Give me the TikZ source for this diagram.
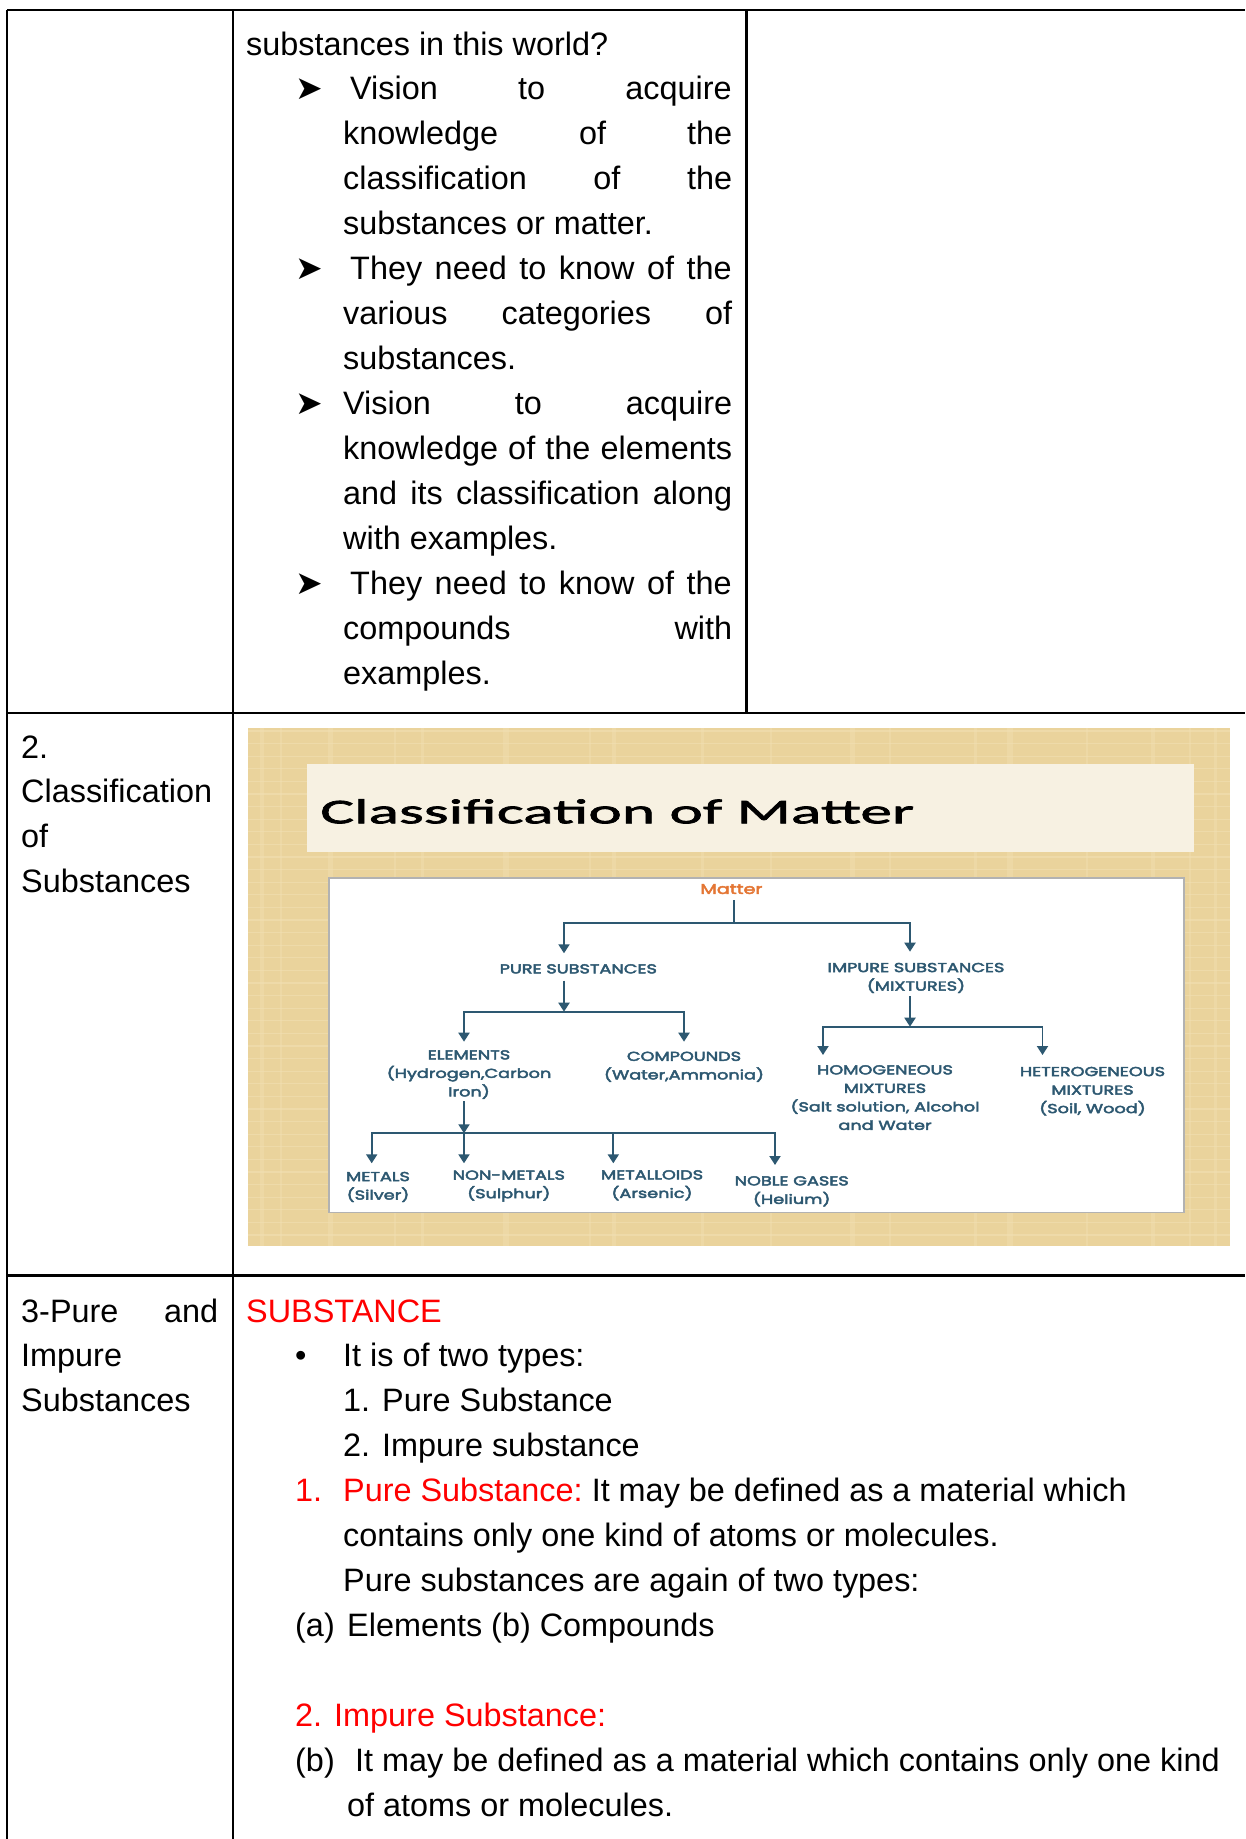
\documentclass[tikz,border=0pt]{standalone}
\usepackage{fontspec}
\setmainfont{Liberation Sans}
\newfontfamily\symfont{DejaVu Sans}
\newfontfamily\titlefont[FakeStretch=1.83,FakeBold=2]{Carlito}
\newfontfamily\treefont[FakeStretch=1.36,FakeBold=3.5]{Poppins}
\usetikzlibrary{arrows.meta,calc}

\definecolor{docred}{RGB}{255,0,0}
\definecolor{treeblue}{RGB}{45,88,113}
\definecolor{matterorange}{RGB}{228,118,52}
\definecolor{papyrus}{RGB}{234,211,156}
\definecolor{papyruslight}{RGB}{243,226,182}
\definecolor{band}{RGB}{247,241,226}

\newcommand{\docfont}{\fontsize{32.4}{44.93}\selectfont}
\newcommand{\jline}[2]{\makebox[#1pt][s]{#2}}

\begin{document}
\begin{tikzpicture}[x=1pt,y=-1pt,
    rule/.style={line width=2.4pt},
    txt/.style={anchor=base west,inner sep=0pt,font=\docfont},
    redtxt/.style={txt,text=docred},
    bulletmark/.style={txt,font=\symfont\fontsize{33}{33}\selectfont},
    tnode/.style={anchor=north,inner sep=0pt,align=center,text=treeblue,
      font=\treefont\fontsize{13}{18.5}\selectfont},
    tline/.style={treeblue,line width=1.9pt},
    tarrow/.style={tline,-{Triangle[width=11pt,length=9pt]}}]

  \useasboundingbox (0,0) rectangle (1245,1839);

  % table rules
  \draw[rule] (7,10) -- (1245,10);
  \draw[rule] (7,10) -- (7,1839);
  \draw[rule] (233,10) -- (233,1839);
  \draw[rule] (746.5,10) -- (746.5,712.7);
  \draw[rule] (7,712.7) -- (1245,712.7);
  \draw[rule] (7,1275.5) -- (1245,1275.5);

  % row 1
  \node[txt] (l0) at (246,55) {substances in this world?};
  \node[bulletmark] (b1) at (295,99.93) {➤};
  \node[txt] (l1) at (350,99.93) {\jline{381.5}{Vision to acquire}};
  \node[txt] (l2) at (343,144.86) {\jline{389}{knowledge of the}};
  \node[txt] (l3) at (343,189.79) {\jline{389}{classification of the}};
  \node[txt] (l4) at (343,234.72) {substances or matter.};
  \node[bulletmark] (b2) at (295,279.65) {➤};
  \node[txt] (l5) at (350,279.65) {\jline{381.5}{They need to know of the}};
  \node[txt] (l6) at (343,324.58) {\jline{389}{various categories of}};
  \node[txt] (l7) at (343,369.51) {substances.};
  \node[bulletmark] (b3) at (295,414.44) {➤};
  \node[txt] (l8) at (343,414.44) {\jline{389}{Vision to acquire}};
  \node[txt] (l9) at (343,459.37) {\jline{389}{knowledge of the elements}};
  \node[txt] (l10) at (343,504.3) {\jline{389}{and its classification along}};
  \node[txt] (l11) at (343,549.23) {with examples.};
  \node[bulletmark] (b4) at (295,594.16) {➤};
  \node[txt] (l12) at (350,594.16) {\jline{381.5}{They need to know of the}};
  \node[txt] (l13) at (343,639.09) {\jline{389}{compounds with}};
  \node[txt] (l14) at (343,684.02) {examples.};

  % row 2
  \node[txt] (n2) at (21,758) {2.};
  \node[txt] (c1) at (21,802.9) {Classification};
  \node[txt] (c2) at (21,847.8) {of};
  \node[txt] (c3) at (21,892.7) {Substances};

  % the picture in row 2
  \fill[papyrus] (247.7,728.3) rectangle (1230,1246);
  \foreach \k in {0,...,40}
    \draw[papyruslight,line width=1.2pt,opacity=.5] (248,{731+12.6*\k}) -- (1230,{731+12.6*\k});
  \foreach \x/\w in {262/4,281/2,330/5,395/2,422/3,506/6,590/2,614/4,702/3,771/2,852/5,890/2,975/3,1010/6,1087/2,1153/4,1190/2,1215/3}
    \draw[papyruslight,line width=\w pt,opacity=.35] (\x,728.3) -- (\x,1246);
  \fill[band] (307,764) rectangle (1194,852);
  \filldraw[fill=white,draw=gray!60,line width=1.2pt] (329,878) rectangle (1184,1212.7);
  \node[anchor=base west,inner sep=0pt,font=\titlefont\fontsize{34.7}{40}\selectfont]
    (title) at (320,823.3) {Classification of Matter};

  \node[tnode,text=matterorange,font=\treefont\fontsize{14}{18.5}\selectfont] (matter) at (731.5,884) {Matter};
  \node[tnode] (pure) at (578.3,964) {PURE SUBSTANCES};
  \node[tnode] (impure) at (916,962.7) {IMPURE SUBSTANCES\\(MIXTURES)};
  \node[tnode] (elem) at (469,1050) {ELEMENTS\\(Hydrogen,Carbon\\Iron)};
  \node[tnode] (comp) at (684,1051.5) {COMPOUNDS\\(Water,Ammonia)};
  \node[tnode] (homo) at (885,1065) {HOMOGENEOUS\\MIXTURES\\(Salt solution, Alcohol\\and Water};
  \node[tnode] (hetero) at (1092.5,1066.7) {HETEROGENEOUS\\MIXTURES\\(Soil, Wood)};
  \node[tnode] (metals) at (378,1171.7) {METALS\\(Silver)};
  \node[tnode] (nonmet) at (508.8,1170.3) {NON-METALS\\(Sulphur)};
  \node[tnode] (metalloid) at (652,1170) {METALLOIDS\\(Arsenic)};
  \node[tnode] (noble) at (791.7,1176) {NOBLE GASES\\(Helium)};

  \coordinate (j0) at (734.3,923.3);
  \coordinate (j1) at (564,1011.7);
  \coordinate (j2) at (910,1026.7);
  \coordinate (j3) at (464,1133.3);

  \draw[tline,shorten <=6pt] (matter.south -| j0) -- (j0);
  \draw[tarrow,shorten >=10.7pt] (j0) -| ([xshift=-14.3pt]pure.north);
  \draw[tarrow,shorten >=11pt] (j0) -| ([xshift=-6pt]impure.north);
  \draw[tarrow,shorten <=7pt] (pure.south -| j1) -- (j1);
  \draw[tarrow,shorten >=8.3pt] (j1) -| (elem.north -| j3);
  \draw[tarrow,shorten >=9.8pt] (j1) -| (comp.north);
  \draw[tarrow,shorten <=3pt] (impure.south -| j2) -- (j2);
  \draw[tarrow,shorten >=10pt] (j2) -| ([xshift=-62pt]homo.north);
  \draw[tarrow,shorten >=11.7pt] (j2) -| ([xshift=-50pt]hetero.north);
  \draw[tarrow,shorten <=2pt] (elem.south -| j3) -- (j3);
  \draw[tarrow,shorten >=8.4pt] (j3) -| ([xshift=-6.3pt]metals.north);
  \draw[tarrow,shorten >=7pt] (j3) -- (nonmet.north -| j3);
  \draw[tarrow,shorten >=6.7pt] (j3) -| ([xshift=-38.7pt]metalloid.north);
  \draw[tarrow,shorten >=11pt] (j3) -| ([xshift=-16.7pt]noble.north);

  % row 3
  \node[txt] (p0) at (21,1322) {\jline{197}{3-Pure and}};
  \node[txt] (p1) at (21,1366.93) {Impure};
  \node[txt] (p2) at (21,1411.86) {Substances};

  \node[redtxt] (s0) at (246,1322) {SUBSTANCE};
  \node[txt] (dot) at (295,1366.93) {•};
  \node[txt] (s1) at (343,1366.93) {It is of two types:};
  \node[txt] (s2) at (343,1411.86) {1. Pure Substance};
  \node[txt] (s3) at (343,1456.79) {2. Impure substance};
  \node[redtxt] (s4n) at (295,1501.72) {1.};
  \node[txt] (s4) at (343,1501.72) {{\color{docred}Pure Substance:}\hspace{-3pt} It may be defined as a material which};
  \node[txt] (s5) at (343,1546.65) {contains only one kind of atoms or molecules.};
  \node[txt] (s6) at (343,1591.58) {Pure substances are again of two types:};
  \node[txt] (s7a) at (295,1636.51) {(a)};
  \node[txt] (s7) at (347,1636.51) {Elements (b) Compounds};
  \node[redtxt] (s9) at (295,1726.37) {2. Impure Substance:};
  \node[txt] (s10b) at (295,1771.3) {(b)};
  \node[txt] (s10) at (355,1771.3) {It may be defined as a material which contains only one kind};
  \node[txt] (s11) at (347,1816.23) {of atoms or molecules.};
\end{tikzpicture}
\end{document}
